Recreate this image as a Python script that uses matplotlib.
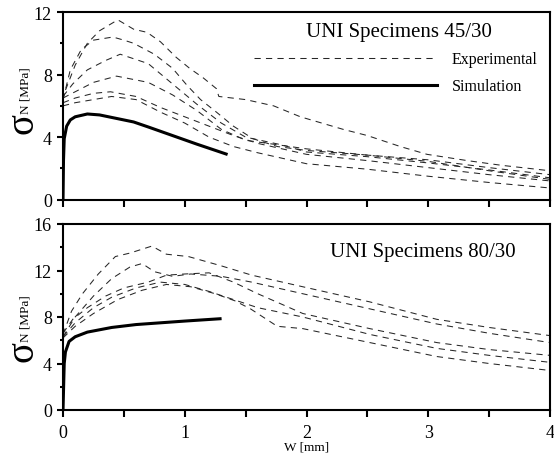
import matplotlib
matplotlib.use("Agg")
import matplotlib.pyplot as plt
from matplotlib.ticker import MultipleLocator

plt.rcParams['font.family'] = ['Liberation Serif', 'DejaVu Serif']

# --- UNI 45/30 : experimental curves (w [mm], sigma_N [MPa])
top_exp_w = [
    [0.0, 0.01, 0.1, 0.2, 0.3, 0.45, 0.58, 0.69, 0.8, 0.93, 1.04, 1.15, 1.26, 1.28, 1.5, 1.73, 1.95, 2.3, 2.5, 2.77, 2.99, 3.32, 3.6, 4.0],
    [0.0, 0.06, 0.15, 0.25, 0.41, 0.5, 0.58, 0.75, 0.9, 1.02, 1.13, 1.26, 1.4, 1.56, 1.76, 2.0, 2.5, 3.0, 3.5, 4.0],
    [0.0, 0.08, 0.2, 0.35, 0.47, 0.7, 0.9, 1.1, 1.3, 1.5, 1.8, 2.0, 2.5, 3.0, 3.5, 4.0],
    [0.0, 0.1, 0.25, 0.44, 0.7, 0.9, 1.1, 1.3, 1.5, 2.0, 2.5, 3.0, 3.5, 4.0],
    [0.0, 0.1, 0.25, 0.39, 0.6, 0.8, 1.0, 1.2, 1.4, 1.6, 2.0, 2.5, 3.0, 3.5, 4.0],
    [0.0, 0.1, 0.25, 0.4, 0.6, 0.8, 1.0, 1.2, 1.4, 1.6, 2.0, 2.5, 3.0, 3.5, 4.0],
]
top_exp_s = [
    [6.3, 6.8, 8.6, 10.0, 10.8, 11.5, 10.9, 10.7, 10.1, 9.1, 8.4, 7.8, 7.1, 6.6, 6.4, 6.0, 5.3, 4.5, 4.1, 3.4, 2.9, 2.5, 2.2, 1.85],
    [6.4, 8.3, 9.6, 10.2, 10.4, 10.2, 10.0, 9.3, 8.4, 7.3, 6.4, 5.6, 4.7, 3.9, 3.4, 3.15, 2.85, 2.55, 2.05, 1.6],
    [6.6, 7.4, 8.3, 8.9, 9.3, 8.7, 7.4, 6.1, 4.9, 4.0, 3.5, 3.05, 2.75, 2.35, 1.9, 1.4],
    [6.5, 6.9, 7.5, 7.9, 7.5, 6.7, 5.7, 4.5, 3.8, 3.25, 2.85, 2.45, 1.85, 1.3],
    [6.2, 6.5, 6.8, 6.9, 6.6, 5.9, 5.3, 4.7, 4.1, 3.6, 2.9, 2.5, 2.05, 1.6, 1.2],
    [6.0, 6.2, 6.4, 6.6, 6.4, 5.6, 4.9, 4.0, 3.4, 3.0, 2.3, 1.95, 1.5, 1.1, 0.75],
]
top_sim_w = [0.0, 0.004, 0.01, 0.03, 0.06, 0.1, 0.2, 0.3, 0.58, 0.7, 0.9, 1.1, 1.34]
top_sim_s = [0.0, 2.5, 3.9, 4.7, 5.1, 5.3, 5.48, 5.42, 4.97, 4.65, 4.1, 3.55, 2.92]

# --- UNI 80/30
bot_exp_w = [
    [0.0, 0.07, 0.16, 0.29, 0.43, 0.55, 0.73, 0.85, 1.03, 1.3, 1.55, 1.97, 2.52, 3.07, 3.5, 4.0],
    [0.0, 0.1, 0.25, 0.4, 0.55, 0.65, 0.75, 0.9, 1.05, 1.3, 1.55, 1.97, 2.52, 3.07, 3.5, 4.0],
    [0.0, 0.08, 0.2, 0.35, 0.5, 0.7, 0.85, 1.0, 1.2, 1.4, 1.6, 1.97, 2.52, 3.07, 3.5, 4.0],
    [0.0, 0.1, 0.25, 0.4, 0.6, 0.8, 1.0, 1.2, 1.4, 1.6, 1.97, 2.52, 3.07, 3.5, 4.0],
    [0.0, 0.1, 0.25, 0.45, 0.65, 0.85, 1.05, 1.25, 1.41, 1.54, 1.76, 1.97, 2.52, 3.07, 3.5, 4.0],
]
bot_exp_s = [
    [6.5, 8.5, 10.0, 11.7, 13.2, 13.5, 14.1, 13.4, 13.2, 12.4, 11.6, 10.6, 9.3, 7.8, 7.1, 6.4],
    [6.3, 8.0, 9.8, 11.3, 12.3, 12.6, 11.9, 11.5, 11.7, 11.5, 11.0, 10.0, 8.7, 7.4, 6.6, 5.8],
    [6.6, 7.8, 8.8, 9.8, 10.5, 11.0, 11.6, 11.7, 11.8, 11.0, 10.0, 8.3, 7.0, 5.8, 5.2, 4.7],
    [6.3, 7.5, 8.8, 9.7, 10.5, 11.0, 10.8, 10.2, 9.5, 8.8, 8.0, 6.5, 5.3, 4.7, 4.1],
    [6.2, 7.2, 8.3, 9.5, 10.3, 10.8, 10.6, 10.0, 9.4, 8.7, 7.2, 7.0, 5.8, 4.6, 4.0, 3.4],
]
bot_sim_w = [0.0, 0.005, 0.01, 0.02, 0.05, 0.1, 0.2, 0.4, 0.6, 0.8, 1.0, 1.29]
bot_sim_s = [0.0, 2.0, 4.0, 5.0, 5.9, 6.3, 6.7, 7.1, 7.35, 7.5, 7.65, 7.85]

titles = ["UNI Specimens 45/30", "UNI Specimens 80/30"]
ylims = [12, 16]

fig = plt.figure(figsize=(5.54, 4.6), dpi=100)
ax1 = fig.add_axes([63 / 554, 1 - 200.7 / 460, 487 / 554, 187.7 / 460])
ax2 = fig.add_axes([63 / 554, 1 - 411 / 460, 487 / 554, 186 / 460])

exp_style = dict(color='0.15', lw=0.75, dashes=(6, 5))
sim_style = dict(color='black', lw=2.2)

for ax, ew, es, sw, ss, title, ymax in [
        (ax1, top_exp_w, top_exp_s, top_sim_w, top_sim_s, titles[0], ylims[0]),
        (ax2, bot_exp_w, bot_exp_s, bot_sim_w, bot_sim_s, titles[1], ylims[1])]:
    for w, s in zip(ew, es):
        exp_line, = ax.plot(w, s, **exp_style)
    sim_line, = ax.plot(sw, ss, **sim_style)
    ax.set_xlim(0, 4)
    ax.set_ylim(0, ymax)
    ax.xaxis.set_major_locator(MultipleLocator(1))
    ax.xaxis.set_minor_locator(MultipleLocator(0.5))
    ax.yaxis.set_major_locator(MultipleLocator(4))
    ax.yaxis.set_minor_locator(MultipleLocator(2))
    ax.tick_params(which='both', direction='out', width=1.5, labelsize=13,
                   top=False, right=False)
    ax.tick_params(axis='x', which='both', length=5, pad=5)
    ax.tick_params(axis='y', which='major', length=4.5, pad=3.5)
    ax.tick_params(axis='y', which='minor', length=2.5)
    for sp in ax.spines.values():
        sp.set_linewidth(1.5)
    if ax is ax1:
        ax.text(0.689, 0.895, title, transform=ax.transAxes, ha='center', va='center', fontsize=15)
        ax.tick_params(axis='x', labelbottom=False)
        ax.legend([exp_line, sim_line], ['Experimental', 'Simulation'], frameon=False,
                  loc='upper left', bbox_to_anchor=(0.38, 0.825), handlelength=11.4,
                  fontsize=11.5, labelspacing=0.7, handletextpad=0.95, borderaxespad=0)
    else:
        ax.text(0.738, 0.85, title, transform=ax.transAxes, ha='center', va='center', fontsize=15)
        ax.set_xlabel('W [mm]', fontsize=9.5, labelpad=0)

# y labels: big sigma, small subscript + unit
for yc, yb in [(123.5, 114), (351, 342)]:
    fig.text(23 / 554, 1 - yc / 460, 'σ', rotation=90, ha='center', va='center', fontsize=28)
    fig.text(26 / 554, 1 - yb / 460, 'N [MPa]', rotation=90, ha='center', va='bottom', fontsize=9.5)

fig.savefig('out.png', dpi=100)
